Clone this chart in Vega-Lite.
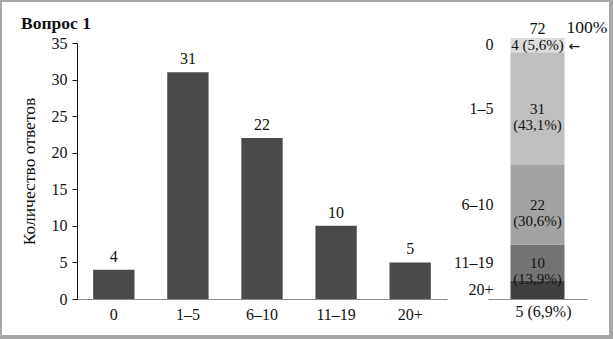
{
  "$schema": "https://vega.github.io/schema/vega-lite/v6.json",
  "autosize": {"type": "none"},
  "width": 607,
  "height": 333,
  "padding": {"left": 2, "top": 2, "right": 4, "bottom": 4},
  "background": "#a7a7a7",
  "view": {"fill": "#ffffff", "stroke": null},
  "config": {
    "font": "Liberation Serif",
    "axis": {"grid": false, "labelFont": "Liberation Serif", "titleFont": "Liberation Serif", "labelFontSize": 16, "titleFontSize": 17.5, "labelColor": "#111111", "titleColor": "#111111", "titleFontWeight": "normal"},
    "text": {"font": "Liberation Serif", "fontSize": 16, "color": "#111111"}
  },
  "title": {"text": "Вопрос 1", "anchor": "start", "frame": "group", "font": "Liberation Serif", "fontSize": 17.5, "fontWeight": "bold", "color": "#111111", "baseline": "alphabetic", "offset": -44, "dx": 19},
  "datasets": {
    "answers": [
      {"cat": "0", "n": 4, "order": 1, "label": "4 (5,6%)"},
      {"cat": "1–5", "n": 31, "order": 2, "label": "31\n(43,1%)"},
      {"cat": "6–10", "n": 22, "order": 3, "label": "22\n(30,6%)"},
      {"cat": "11–19", "n": 10, "order": 4, "label": "10\n(13,9%)"},
      {"cat": "20+", "n": 5, "order": 5, "label": "5 (6,9%)"}
    ],
    "total": [{"group": "Всего", "n": 72, "share": "100%"}]
  },
  "resolve": {"scale": {"x": "independent", "y": "independent", "color": "independent"}},
  "layer": [
    {
      "data": {"name": "answers"},
      "encoding": {
        "x": {"field": "cat", "type": "nominal", "sort": ["0", "1–5", "6–10", "11–19", "20+"],
          "scale": {"range": [75, 445], "paddingInner": 0.442, "paddingOuter": 0.218},
          "axis": {"orient": "bottom", "offset": -36, "title": null, "ticks": false, "tickSize": 0, "labelPadding": 7, "labelAngle": 0, "domainColor": "#8c8c8c"}},
        "y": {"field": "n", "type": "quantitative",
          "scale": {"domain": [0, 35], "range": [297, 41], "nice": false},
          "axis": {"orient": "left", "offset": -75, "values": [0, 5, 10, 15, 20, 25, 30, 35], "title": "Количество ответов", "tickSize": 5, "tickColor": "#111111", "domainColor": "#111111", "labelPadding": 5, "titlePadding": 13}}
      },
      "layer": [
        {"mark": {"type": "bar", "color": "#4a4a4a"}},
        {"mark": {"type": "text", "baseline": "alphabetic", "dy": -8}, "encoding": {"text": {"field": "n", "type": "quantitative"}}}
      ]
    },
    {
      "data": {"name": "answers"},
      "encoding": {
        "x": {"datum": "Всего", "type": "nominal",
          "scale": {"type": "band", "range": [486, 585], "paddingInner": 0, "paddingOuter": 0.4167},
          "axis": {"orient": "bottom", "offset": -36, "title": null, "labels": false, "ticks": false, "domainColor": "#8c8c8c"}}
      },
      "layer": [
        {"mark": {"type": "bar"},
          "encoding": {
            "y": {"field": "n", "type": "quantitative", "stack": "zero", "scale": {"domain": [0, 72], "range": [297, 36], "nice": false}, "axis": null},
            "color": {"field": "cat", "type": "nominal", "scale": {"domain": ["0", "1–5", "6–10", "11–19", "20+"], "range": ["#dcdcdc", "#bfbfbf", "#a3a3a3", "#737373", "#404040"]}, "legend": null},
            "order": {"field": "order", "type": "quantitative", "sort": "descending"}
          }},
        {
          "transform": [
            {"stack": "n", "groupby": [], "sort": [{"field": "order", "order": "descending"}], "as": ["y0", "y1"]},
            {"fold": ["y0", "y1"], "as": ["edge", "pos"]},
            {"aggregate": [{"op": "mean", "field": "pos", "as": "mid"}], "groupby": ["cat", "label"]}
          ],
          "layer": [
            {"transform": [{"filter": "datum.cat !== '20+'"}],
              "mark": {"type": "text", "lineBreak": "\n", "fontSize": 15, "lineHeight": 16, "baseline": "middle"},
              "encoding": {"y": {"field": "mid", "type": "quantitative", "axis": null}, "text": {"field": "label"}}},
            {"mark": {"type": "text", "align": "right", "dx": -44, "baseline": "middle"},
              "encoding": {"y": {"field": "mid", "type": "quantitative", "axis": null}, "text": {"field": "cat"}}}
          ]
        },
        {"transform": [{"filter": "datum.cat === '20+'"}],
          "mark": {"type": "text", "dy": 18, "dx": 6, "baseline": "alphabetic"},
          "encoding": {"y": {"datum": 0, "type": "quantitative", "axis": null}, "text": {"field": "label"}}},
        {
          "data": {"name": "total"},
          "layer": [
            {"mark": {"type": "text", "dy": -4, "baseline": "alphabetic"},
              "encoding": {"y": {"field": "n", "type": "quantitative", "axis": null}, "text": {"field": "n", "type": "quantitative"}}},
            {"mark": {"type": "text", "align": "left", "dx": 29, "dy": -5, "baseline": "alphabetic", "fontSize": 17.5},
              "encoding": {"y": {"field": "n", "type": "quantitative", "axis": null}, "text": {"field": "share"}}},
            {"mark": {"type": "text", "align": "left", "dx": 31, "dy": 9, "baseline": "middle", "font": "DejaVu Sans", "fontSize": 14},
              "encoding": {"y": {"field": "n", "type": "quantitative", "axis": null}, "text": {"value": "←"}}}
          ]
        }
      ]
    }
  ]
}
